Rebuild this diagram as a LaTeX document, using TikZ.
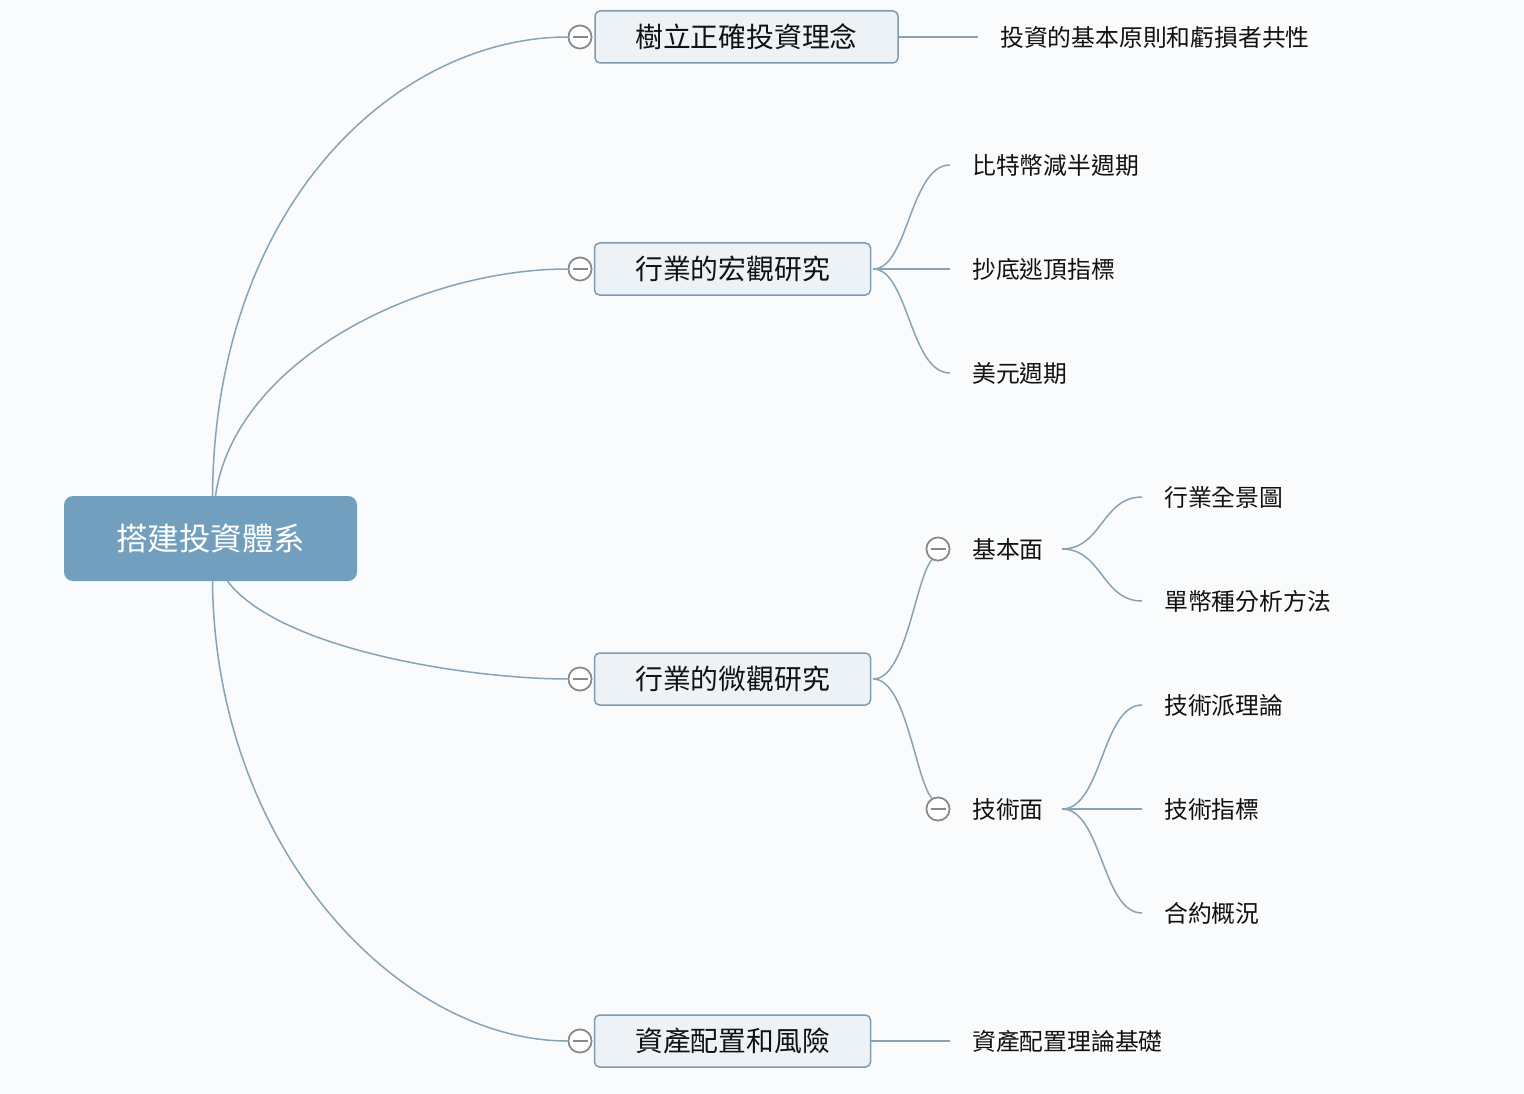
\documentclass[tikz,border=0pt]{standalone}
\usepackage{fontspec}
\setmainfont{Noto Sans CJK TC}
\definecolor{linec}{HTML}{87A3B6}
\definecolor{boxline}{HTML}{7F9BB2}
\definecolor{boxfill}{HTML}{EDF2F7}
\definecolor{rootc}{HTML}{729FBE}
\definecolor{foldc}{HTML}{888888}
\definecolor{bgc}{HTML}{FAFBFC}
\definecolor{txt}{HTML}{111111}
\begin{document}
\begin{tikzpicture}[x=1pt,y=-1pt,
 conn/.style={draw=linec, line width=1.5pt},
 rootbox/.style={fill=rootc, rounded corners=9pt, minimum width=293pt, minimum height=85pt, text=white, inner sep=0pt, font=\fontsize{31.5}{38}\selectfont},
 topic/.style={draw=boxline, fill=boxfill, line width=1.5pt, rounded corners=5pt, minimum height=52pt, inner sep=0pt, font=\fontsize{27.8}{33}\selectfont, text=txt},
 leaf/.style={anchor=west, inner sep=0pt, font=\fontsize{23.8}{29}\selectfont, text=txt},
 fold/.style={circle, draw=foldc, line width=1.6pt, fill=white, minimum size=23pt, inner sep=0pt,
   path picture={\draw[foldc, line width=1.6pt] ([xshift=-7.5pt]path picture bounding box.center) -- ([xshift=7.5pt]path picture bounding box.center);}}
]
\fill[bgc] (0,0) rectangle (1524,1094);
\useasboundingbox (0,0) rectangle (1524,1094);

% nodes
\node[rootbox] (root) at (210.5,538.5) {搭建投資體系};

\node[topic, minimum width=303pt] (t1) at (746.5,37) {樹立正確投資理念};
\node[topic, minimum width=276pt] (t2) at (732.5,269) {行業的宏觀研究};
\node[topic, minimum width=276pt] (t3) at (732.5,679) {行業的微觀研究};
\node[topic, minimum width=276pt] (t4) at (732.5,1041) {資產配置和風險};

\node[fold] (f1) at (580,37) {};
\node[fold] (f2) at (580,269) {};
\node[fold] (f3) at (580,679) {};
\node[fold] (f4) at (580,1041) {};

\node[leaf] (l1) at (1000,37) {投資的基本原則和虧損者共性};
\node[leaf] (l21) at (972,165) {比特幣減半週期};
\node[leaf] (l22) at (972,269) {抄底逃頂指標};
\node[leaf] (l23) at (972,373) {美元週期};

\node[leaf] (jb) at (972,549) {基本面};
\node[leaf] (js) at (972,809) {技術面};
\node[fold] (fj) at (938,549) {};
\node[fold] (fs) at (938,809) {};

\node[leaf] (jb1) at (1164,497) {行業全景圖};
\node[leaf] (jb2) at (1164,601) {單幣種分析方法};
\node[leaf] (js1) at (1164,705) {技術派理論};
\node[leaf] (js2) at (1164,809) {技術指標};
\node[leaf] (js3) at (1164,913) {合約概況};

\node[leaf] (l4) at (972,1041) {資產配置理論基礎};

% named end points
\coordinate (e1) at ([xshift=-22pt]l1.west);
\coordinate (e21) at ([xshift=-22pt]l21.west);
\coordinate (e22) at ([xshift=-22pt]l22.west);
\coordinate (e23) at ([xshift=-22pt]l23.west);
\coordinate (e4) at ([xshift=-22pt]l4.west);
\coordinate (ejb) at (1062,549);
\coordinate (ejs) at (1062,809);
\coordinate (ejb1) at ([xshift=-22pt]jb1.west);
\coordinate (ejb2) at ([xshift=-22pt]jb2.west);
\coordinate (ejs1) at ([xshift=-22pt]js1.west);
\coordinate (ejs2) at ([xshift=-22pt]js2.west);
\coordinate (ejs3) at ([xshift=-22pt]js3.west);

% root connectors
\draw[conn] ([xshift=2pt]root.north) .. controls (215,200) and (400,37) .. (f1.west);
\draw[conn] ([xshift=5pt]root.north) .. controls (235,360) and (420,269) .. (f2.west);
\draw[conn] ([xshift=17pt]root.south) .. controls (280,650) and (470,679) .. (f3.west);
\draw[conn] ([xshift=2pt]root.south) .. controls (215,850) and (400,1041) .. (f4.west);

% topic branches
\draw[conn] (t1.east) -- (e1);
\draw[conn] ([xshift=2pt]t2.east) .. controls +(35,0) and +(-40,0) .. (e21);
\draw[conn] ([xshift=2pt]t2.east) -- (e22);
\draw[conn] ([xshift=2pt]t2.east) .. controls +(35,0) and +(-40,0) .. (e23);
\draw[conn] ([xshift=2pt]t3.east) .. controls +(33,0) and (915,580) .. (fj.240);
\draw[conn] ([xshift=2pt]t3.east) .. controls +(33,0) and (915,778) .. (fs.120);
\draw[conn] (t4.east) -- (e4);

% sub branches
\draw[conn] (ejb) .. controls +(40,0) and +(-40,0) .. (ejb1);
\draw[conn] (ejb) .. controls +(40,0) and +(-40,0) .. (ejb2);
\draw[conn] (ejs) .. controls +(40,0) and +(-40,0) .. (ejs1);
\draw[conn] (ejs) -- (ejs2);
\draw[conn] (ejs) .. controls +(40,0) and +(-40,0) .. (ejs3);

% redraw folds on top
\node[fold] at (f1) {};
\node[fold] at (f2) {};
\node[fold] at (f3) {};
\node[fold] at (f4) {};
\node[fold] at (fj) {};
\node[fold] at (fs) {};
\end{tikzpicture}
\end{document}
